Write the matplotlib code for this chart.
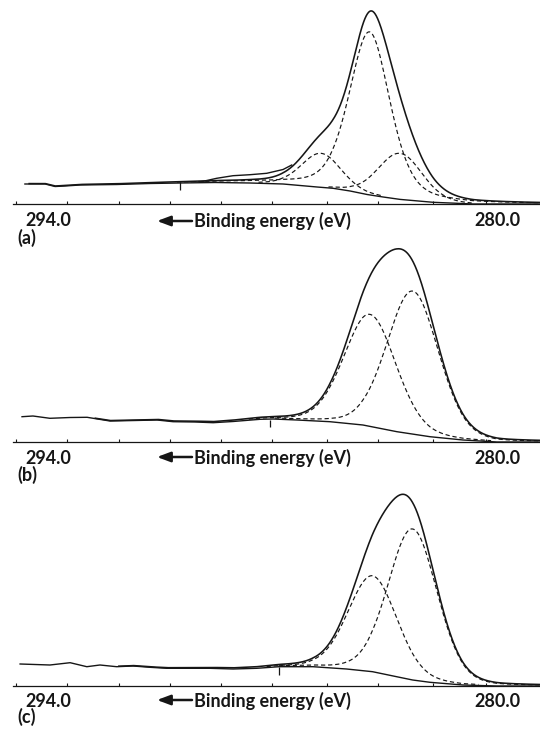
import numpy as np
import matplotlib
matplotlib.use("Agg")
import matplotlib.pyplot as plt

plt.rcParams['font.family'] = ['Lato', 'DejaVu Sans']

# ---------------- data (binding energy in eV, intensity in arbitrary units) -------------
tick_E = [295.0, 293.4, 291.8, 290.2, 288.6, 287.0, 285.3, 283.7, 282.0, 280.35]
tick_label_E = [294.0, 280.0]
tick_labels = ['294.0', '280.0']
panel_labels = ['(a)', '(b)', '(c)']
xlabel = 'Binding energy (eV)'

# panel (a)
bg_a_E = [294.72, 294.09, 293.78, 293.47, 293.00, 291.85, 290.82, 289.88, 288.79, 287.70,
          286.67, 285.61, 285.11, 284.58, 284.05, 283.55, 283.02, 281.99, 281.31, 280.75, 278.66]
bg_a_I = [20.0, 20.0, 17.5, 18.0, 19.0, 19.5, 20.5, 21.0, 21.5, 21.0,
          20.0, 17.0, 15.7, 13.0, 9.5, 7.0, 4.6, 1.7, 0.8, 0.0, 0.0]
meas_a_E = [289.26, 288.74, 288.23, 287.70, 287.18, 286.67, 286.40]
meas_a_I = [22.0, 25.7, 28.3, 29.3, 30.7, 34.5, 39.0]
comp_a_center = [285.49, 283.975, 283.02]
comp_a_height = [34.0, 163.0, 46.0]
comp_a_fwhm = [1.45, 1.5, 1.62]
comp_a_eta = [0.2, 0.4, 0.15]
mark_a_E = 289.88

# panel (b)
bg_b_E = [294.81, 294.47, 293.94, 293.31, 292.78, 292.07, 291.29, 290.60, 290.10, 289.42,
          288.85, 288.23, 287.39, 286.98, 286.24, 285.21, 284.18, 283.12, 282.09, 281.06,
          280.00, 278.66]
bg_b_I = [25.3, 26.0, 23.7, 24.5, 24.7, 21.0, 21.5, 22.0, 20.3, 20.0,
          19.3, 20.5, 22.7, 23.0, 22.0, 20.3, 17.0, 10.3, 5.3, 2.0,
          0.0, 0.0]
comp_b_center = [283.96, 282.63]
comp_b_height = [112.0, 143.0]
comp_b_fwhm = [1.9, 1.9]
comp_b_eta = [0.15, 0.15]
mark_b_E = 287.08

# panel (c)
bg_c_E = [294.87, 293.94, 293.31, 292.79, 292.38, 291.86, 291.35, 290.82, 290.30, 289.68,
          288.95, 288.23, 287.49, 286.79, 285.74, 284.69, 283.88, 283.13, 282.63, 282.09,
          281.06, 280.01, 278.66]
bg_c_I = [22.0, 21.0, 23.3, 19.3, 21.0, 19.3, 20.0, 18.7, 17.7, 17.7,
          17.7, 17.0, 17.7, 19.3, 19.3, 17.0, 14.3, 9.3, 6.0, 3.7,
          1.0, 0.0, 0.0]
comp_c_center = [283.88, 282.63]
comp_c_height = [96.0, 151.0]
comp_c_fwhm = [1.8, 1.8]
comp_c_eta = [0.15, 0.15]
mark_c_E = 286.80

panels = [
    dict(bgE=bg_a_E, bgI=bg_a_I, mE=meas_a_E, mI=meas_a_I, cc=comp_a_center, ch=comp_a_height,
         cf=comp_a_fwhm, ce=comp_a_eta, mark=mark_a_E, mark_h=(22.3, 14.0), y0=204,
         num_base=-22.5, let_base=-40.0, arrow_y=-17.0),
    dict(bgE=bg_b_E, bgI=bg_b_I, mE=None, mI=None, cc=comp_b_center, ch=comp_b_height,
         cf=comp_b_fwhm, ce=comp_b_eta, mark=mark_b_E, mark_h=(22.5, 15.0), y0=442,
         num_base=-21.5, let_base=-39.0, arrow_y=-15.0),
    dict(bgE=bg_c_E, bgI=bg_c_I, mE=None, mI=None, cc=comp_c_center, ch=comp_c_height,
         cf=comp_c_fwhm, ce=comp_c_eta, mark=mark_c_E, mark_h=(19.5, 11.0), y0=686,
         num_base=-21.0, let_base=-37.0, arrow_y=-14.0),
]

# ---------------- layout ------------------------------------------------------------
W, H = 540, 729
PX_PER_EV = 32.07
E_LEFT = 294.0 + 48 / PX_PER_EV
E_RIGHT = 294.0 - (W - 48) / PX_PER_EV
INK = '#161616'


def px2E(x):
    return 294.0 - (x - 48) / PX_PER_EV


def pvoigt(E, c, h, f, eta):
    d = (E - c) / f
    g = np.exp(-4 * np.log(2) * d ** 2)
    l = 1.0 / (1.0 + 4 * d ** 2)
    return h * ((1 - eta) * g + eta * l)


fig = plt.figure(figsize=(W / 100, H / 100), dpi=100)
Efine = np.linspace(E_LEFT, E_RIGHT, 2000)

for p, lab in zip(panels, panel_labels):
    ax = fig.add_axes([0, (H - p['y0']) / H, 1, 200 / H])
    ax.set_xlim(E_LEFT, E_RIGHT)
    ax.set_ylim(0, 200)
    ax.patch.set_alpha(0)
    for s in ['top', 'left', 'right']:
        ax.spines[s].set_visible(False)
    ax.spines['bottom'].set_bounds(295.1, E_RIGHT)
    ax.spines['bottom'].set_linewidth(0.9)
    ax.spines['bottom'].set_color(INK)
    ax.set_yticks([])
    ax.set_xticks([])
    ax.set_xticks(tick_E, minor=True)
    ax.tick_params(axis='x', which='minor', direction='in', length=2.4, width=0.8, color=INK)

    bgE = np.array(p['bgE'])
    bgI = np.array(p['bgI'])
    start = bgE.max()
    mask = Efine <= start
    E = Efine[mask]
    bg = np.interp(E, bgE[::-1], bgI[::-1])

    # background (and measured flat region)
    ax.plot(bgE, bgI, color=INK, lw=1.0, solid_joinstyle='round')

    # components
    total = bg.copy()
    for c, h, f, eta in zip(p['cc'], p['ch'], p['cf'], p['ce']):
        comp = pvoigt(E, c, h, f, eta)
        total += comp
        y = np.where(comp > 1.0, bg + comp, np.nan)
        ax.plot(E, y, color=INK, lw=0.85, linestyle=(0, (3.6, 2.4)))

    # fitted envelope (drawn only where it rises above the background)
    env = np.where(total - bg > 0.4, total, np.nan)
    ax.plot(E, env, color=INK, lw=1.15)

    # measured spectrum where it separates from the fit
    if p['mE'] is not None:
        ax.plot(p['mE'], p['mI'], color=INK, lw=1.0, solid_joinstyle='round')

    # start-of-fit marker on background
    ax.vlines(p['mark'], p['mark_h'][1], p['mark_h'][0], color=INK, lw=0.9)

    # labels
    tkw = dict(fontsize=13, fontweight='bold', color=INK, clip_on=False, va='baseline')
    for xe, t in zip(tick_label_E, tick_labels):
        ax.text(xe, p['num_base'], t, ha='center', **tkw)
    ax.text(px2E(17), p['let_base'], lab, ha='left', **tkw)
    ax.annotate('', xy=(px2E(157), p['arrow_y']), xytext=(px2E(192), p['arrow_y']),
                xycoords='data', textcoords='data', annotation_clip=False,
                arrowprops=dict(arrowstyle='-|>,head_length=0.8,head_width=0.3',
                                lw=1.8, color=INK, shrinkA=0, shrinkB=0))
    ax.text(px2E(194), p['num_base'], xlabel, ha='left', **tkw)

fig.savefig('out.png', dpi=100)
